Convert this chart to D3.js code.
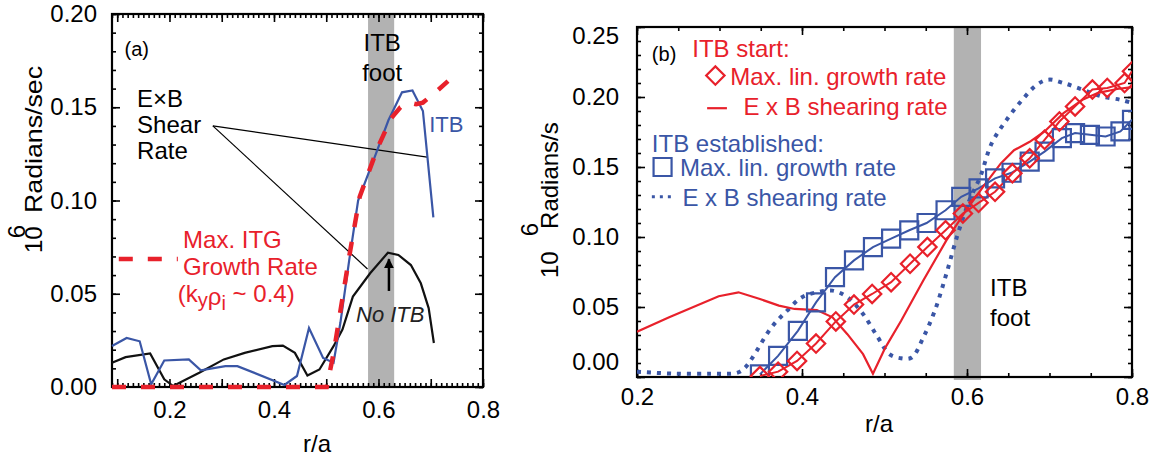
<!DOCTYPE html>
<html>
<head>
<meta charset="utf-8">
<script src="https://cdn.jsdelivr.net/npm/d3@7"></script>
<style>
  body { margin: 0; background: #fff; }
  svg { font-family: "Liberation Sans", Arial, Helvetica, sans-serif; }
</style>
</head>
<body>
<svg id="chart" width="1153" height="461"></svg>
<script>
// ---- panel (a) data ----
const aXLabels = [0.2, 0.4, 0.6, 0.8];
const aYLabels = [0.00, 0.05, 0.10, 0.15, 0.20];
const aFoot = [0.58, 0.63];
// E x B shear rate with ITB (blue)
const aShearItb = [[0.09,0.022],[0.118,0.0263],[0.143,0.0245],[0.165,0.0014],[0.19,0.0142],[0.237,0.0148],
  [0.26,0.0089],[0.307,0.0112],[0.33,0.0112],[0.42,0.0011],[0.444,0.0059],[0.467,0.0316],[0.494,0.0156],
  [0.514,0.013],[0.527,0.0343],[0.544,0.068],[0.561,0.100],[0.595,0.125],[0.619,0.143],[0.645,0.158],
  [0.665,0.159],[0.685,0.148],[0.705,0.091]];
// E x B shear rate, no ITB (black)
const aShearNoItb = [[0.09,0.013],[0.116,0.016],[0.163,0.018],[0.19,0.0041],[0.207,0.0005],[0.257,0.0076],
  [0.304,0.0148],[0.344,0.0183],[0.397,0.0219],[0.417,0.0222],[0.44,0.0183],[0.464,0.0062],[0.487,0.0094],
  [0.514,0.0219],[0.531,0.0308],[0.551,0.0485],[0.584,0.061],[0.618,0.072],[0.638,0.0708],[0.662,0.0654],
  [0.681,0.0556],[0.696,0.0423],[0.706,0.0236]];
// max ITG growth rate (red dashed)
const aItgGrowth = [[0.09,0],[0.501,0],[0.514,0.018],[0.544,0.070],[0.564,0.102],[0.598,0.128],[0.624,0.144],
  [0.642,0.150],[0.659,0.1525],[0.672,0.1516],[0.685,0.1525],[0.709,0.158],[0.733,0.164]];

// ---- panel (b) data ----
const bXLabels = [0.2, 0.4, 0.6, 0.8];
const bYLabels = [0.00, 0.05, 0.10, 0.15, 0.20, 0.25];
const bFoot = [0.584, 0.617];
// ITB start: E x B shearing rate (red solid)
const bStartShear = [[0.2,0.0323],[0.239,0.0426],[0.299,0.0577],[0.323,0.0605],[0.349,0.0557],[0.372,0.051],
  [0.391,0.0486],[0.418,0.0478],[0.437,0.0426],[0.455,0.0306],[0.474,0.0163],[0.486,0.0024],[0.501,0.021],
  [0.520,0.040],[0.547,0.0689],[0.575,0.0976],[0.6,0.120],[0.621,0.137],[0.641,0.1526],[0.657,0.162],
  [0.676,0.168],[0.694,0.1754],[0.717,0.1885],[0.740,0.198],[0.759,0.203],[0.782,0.2057],[0.8,0.207]];
// ITB start: max. lin. growth rate (red diamonds)
const bStartGrowth = [[0.349,0.0007],[0.371,0.0038],[0.394,0.0115],[0.417,0.0239],[0.441,0.0397],[0.463,0.0517],
  [0.485,0.0593],[0.508,0.0677],[0.531,0.0809],[0.552,0.0928],[0.574,0.1048],[0.595,0.1167],[0.614,0.1244],
  [0.634,0.1323],[0.655,0.1455],[0.676,0.1562],[0.694,0.1694],[0.712,0.1825],[0.731,0.1933],[0.752,0.2053],
  [0.770,0.2065],[0.791,0.210],[0.800,0.2184]];
// ITB established: max. lin. growth rate (blue squares)
const bEstGrowth = [[0.349,0.0019],[0.371,0.0151],[0.395,0.033],[0.417,0.0533],[0.440,0.0713],[0.463,0.0833],
  [0.486,0.0928],[0.508,0.0988],[0.530,0.1048],[0.551,0.110],[0.574,0.1191],[0.593,0.1287],[0.614,0.1347],
  [0.634,0.1419],[0.654,0.1459],[0.676,0.1538],[0.694,0.161],[0.715,0.1706],[0.731,0.1742],[0.749,0.173],
  [0.768,0.1718],[0.786,0.1754],[0.800,0.1837]];
// ITB established: E x B shearing rate (blue dotted)
const bEstShear = [[0.2,0.0038],[0.244,0.0024],[0.290,0.0024],[0.322,0.0031],[0.331,0.0067],[0.340,0.0139],
  [0.363,0.0354],[0.382,0.0474],[0.4,0.057],[0.418,0.0605],[0.437,0.0617],[0.455,0.057],[0.474,0.045],
  [0.492,0.0282],[0.506,0.0163],[0.520,0.0134],[0.533,0.0139],[0.547,0.0282],[0.561,0.0474],[0.575,0.0737],
  [0.589,0.1024],[0.603,0.1263],[0.616,0.143],[0.630,0.167],[0.648,0.1837],[0.667,0.198],[0.685,0.2089],
  [0.699,0.2124],[0.717,0.210],[0.740,0.2053],[0.763,0.2005],[0.786,0.198],[0.8,0.1957]];

const RED = "#e8212b", BLUE = "#3a56a6", GRAY = "#b2b2b2";
const FS = 24;

const svg = d3.select("#chart");

const aX = d3.scaleLinear().domain([0.09, 0.8]).range([112, 483]);
const aY = d3.scaleLinear().domain([0, 0.2]).range([387, 14]);
const bX = d3.scaleLinear().domain([0.2, 0.8]).range([637, 1132]);
const bY = d3.scaleLinear().domain([0, 0.25]).range([377, 27]);

const near = (arr, v) => arr.some(a => Math.abs(a - v) < 1e-6);

function drawFrame(g, x, y, o) {
  const [x0, x1] = x.range(), [y0, y1] = y.range();
  const add = (axis, tr) => g.append("g").attr("transform", tr).call(axis);
  // minor ticks, pointing inward
  add(d3.axisBottom(x).tickValues(o.xMinor).tickSize(-4).tickFormat(""), `translate(0,${y0})`);
  add(d3.axisTop(x).tickValues(o.xMinor).tickSize(-4).tickFormat(""), `translate(0,${y1})`);
  add(d3.axisLeft(y).tickValues(o.yMinor).tickSize(-4).tickFormat(""), `translate(${x0},0)`);
  add(d3.axisRight(y).tickValues(o.yMinor).tickSize(-4).tickFormat(""), `translate(${x1},0)`);
  // major ticks
  const fx = d3.format(".1f"), fy = d3.format(".2f");
  add(d3.axisBottom(x).tickValues(o.xMajor).tickSize(-8).tickPadding(o.xPad)
    .tickFormat(d => near(o.xLabels, d) ? fx(d) : ""), `translate(0,${y0})`).attr("class", "xlab");
  add(d3.axisTop(x).tickValues(o.xMajor).tickSize(-8).tickFormat(""), `translate(0,${y1})`);
  add(d3.axisLeft(y).tickValues(o.yLabels).tickSize(-8).tickPadding(o.yPad).tickFormat(fy), `translate(${x0},0)`)
    .attr("class", "ylab");
  add(d3.axisRight(y).tickValues(o.yLabels).tickSize(-8).tickFormat(""), `translate(${x1},0)`);
  g.selectAll(".domain").remove();
  g.selectAll(".tick line").attr("stroke", "#000").attr("stroke-width", 1.6);
  g.selectAll(".tick text").attr("fill", "#000")
    .style("font-size", FS + "px").style("font-family", "'Liberation Sans', Arial, sans-serif");
  g.append("rect")
    .attr("x", x0).attr("y", y1).attr("width", x1 - x0).attr("height", y0 - y1)
    .attr("fill", "none").attr("stroke", "#000").attr("stroke-width", 2.2);
}

function txt(g, x, y, s, color, size, anchor) {
  return g.append("text").attr("x", x).attr("y", y).attr("fill", color || "#000")
    .attr("font-size", size || FS).attr("text-anchor", anchor || "start").text(s);
}

// ================= panel (a) =================
const ga = svg.append("g");
ga.append("rect")
  .attr("x", aX(aFoot[0])).attr("y", aY(0.2))
  .attr("width", aX(aFoot[1]) - aX(aFoot[0])).attr("height", aY(0) - aY(0.2))
  .attr("fill", GRAY);

drawFrame(ga, aX, aY, {
  xMinor: d3.range(9, 81).map(i => i / 100),
  xMajor: d3.range(1, 9).map(i => i / 10),
  xLabels: aXLabels,
  yMinor: d3.range(0, 21).map(i => i / 100),
  yLabels: aYLabels,
  xPad: 14, yPad: 15
});

const lineA = d3.line().x(d => aX(d[0])).y(d => aY(d[1]));

// leader lines from "Shear" label
[[0.693, 0.1233], [0.579, 0.0633]].forEach(p => {
  ga.append("line")
    .attr("x1", aX(0.283)).attr("y1", aY(0.140))
    .attr("x2", aX(p[0])).attr("y2", aY(p[1]))
    .attr("stroke", "#000").attr("stroke-width", 1.2);
});

ga.append("path").datum(aShearNoItb).attr("d", lineA)
  .attr("fill", "none").attr("stroke", "#111").attr("stroke-width", 2.2);
ga.append("path").datum(aShearItb).attr("d", lineA)
  .attr("fill", "none").attr("stroke", BLUE).attr("stroke-width", 2.2);
ga.append("path").datum(aItgGrowth).attr("d", lineA)
  .attr("fill", "none").attr("stroke", RED).attr("stroke-width", 4.5)
  .attr("stroke-dasharray", "14,15");

// legend dash for ITG growth rate
ga.append("line")
  .attr("x1", aX(0.103)).attr("x2", aX(0.216)).attr("y1", aY(0.0686)).attr("y2", aY(0.0686))
  .attr("stroke", RED).attr("stroke-width", 4.5).attr("stroke-dasharray", "14,15");

txt(ga, aX(0.114), aY(0.1775), "(a)", "#000", 20);
txt(ga, aX(0.607), aY(0.180), "ITB", "#000", FS, "middle");
txt(ga, aX(0.607), aY(0.164), "foot", "#000", FS, "middle");
txt(ga, aX(0.138), aY(0.150), "E\u00d7B");
txt(ga, aX(0.138), aY(0.136), "Shear");
txt(ga, aX(0.138), aY(0.122), "Rate");
txt(ga, aX(0.226), aY(0.0745), "Max. ITG", RED);
txt(ga, aX(0.226), aY(0.060), "Growth Rate", RED);
const kt = txt(ga, aX(0.216), aY(0.0458), "", RED);
kt.append("tspan").text("(k");
kt.append("tspan").attr("dy", 5).attr("font-size", 20).text("y");
kt.append("tspan").attr("dy", -2).text("\u03c1");
kt.append("tspan").attr("dy", 5).attr("font-size", 20).text("i");
kt.append("tspan").attr("dy", -8).text(" ~ 0.4)");
txt(ga, aX(0.557), aY(0.0348), "No ITB", "#222", 22).attr("font-style", "italic");
txt(ga, aX(0.697), aY(0.1367), "ITB", BLUE, 22);

// arrow pointing at the no-ITB peak
svg.append("defs").append("marker")
  .attr("id", "ah").attr("viewBox", "0 0 10 10").attr("refX", 9).attr("refY", 5)
  .attr("markerWidth", 4).attr("markerHeight", 5).attr("orient", "auto")
  .append("path").attr("d", "M0,0 L10,5 L0,10 z").attr("fill", "#000");
ga.append("line")
  .attr("x1", aX(0.620)).attr("x2", aX(0.620)).attr("y1", aY(0.0515)).attr("y2", aY(0.0685))
  .attr("stroke", "#000").attr("stroke-width", 2.5).attr("marker-end", "url(#ah)");

// axis titles
const ta = ga.append("text").attr("transform", "translate(42,253) rotate(-90)").attr("font-size", FS);
ta.append("tspan").text("10");
ta.append("tspan").attr("dx", -12).attr("dy", -17).text("6");
ta.append("tspan").attr("dx", 12).attr("dy", 17)
  .attr("textLength", 147).attr("lengthAdjust", "spacingAndGlyphs").text("Radians/sec");
txt(ga, 317, 452, "r/a", "#000", FS, "middle");

// ================= panel (b) =================
const gb = svg.append("g");
gb.append("rect")
  .attr("x", bX(bFoot[0])).attr("y", bY(0.25))
  .attr("width", bX(bFoot[1]) - bX(bFoot[0])).attr("height", bY(0) - bY(0.25) + 3)
  .attr("fill", GRAY);

drawFrame(gb, bX, bY, {
  xMinor: d3.range(4, 17).map(i => i / 20),
  xMajor: bXLabels,
  xLabels: bXLabels,
  yMinor: d3.range(0, 26).map(i => i / 100),
  yLabels: bYLabels,
  xPad: 11, yPad: 18
});
// end labels sit inside the frame height
gb.selectAll(".ylab .tick text").attr("transform", d => d === 0 ? "translate(0,-15)" : (d === 0.25 ? "translate(0,9)" : null));

gb.append("clipPath").attr("id", "clipb").append("rect")
  .attr("x", 637).attr("y", 27).attr("width", 495).attr("height", 350);
const plotB = gb.append("g").attr("clip-path", "url(#clipb)");
const lineB = d3.line().x(d => bX(d[0])).y(d => bY(d[1]));

plotB.append("path").datum(bEstShear).attr("d", lineB.curve(d3.curveCatmullRom))
  .attr("fill", "none").attr("stroke", BLUE).attr("stroke-width", 4).attr("stroke-dasharray", "4,6");
lineB.curve(d3.curveLinear);
plotB.append("path").datum(bEstGrowth).attr("d", lineB)
  .attr("fill", "none").attr("stroke", BLUE).attr("stroke-width", 2);
plotB.append("path").datum(bStartGrowth).attr("d", lineB)
  .attr("fill", "none").attr("stroke", RED).attr("stroke-width", 2);
plotB.append("path").datum(bStartShear).attr("d", lineB)
  .attr("fill", "none").attr("stroke", RED).attr("stroke-width", 2.2);

const sq = d3.symbol(d3.symbolSquare, 324);
const dm = d3.symbol(d3.symbolSquare, 169);
plotB.selectAll(".sq").data(bEstGrowth).join("path").attr("class", "sq")
  .attr("d", sq).attr("transform", d => `translate(${bX(d[0])},${bY(d[1])})`)
  .attr("fill", "none").attr("stroke", BLUE).attr("stroke-width", 2.2);
plotB.selectAll(".dm").data(bStartGrowth).join("path").attr("class", "dm")
  .attr("d", dm).attr("transform", d => `translate(${bX(d[0])},${bY(d[1])}) rotate(45)`)
  .attr("fill", "none").attr("stroke", RED).attr("stroke-width", 2.2);

// legend block
txt(gb, bX(0.218), bY(0.2256), "(b)", "#000", 20);
txt(gb, bX(0.267), bY(0.2287), "ITB start:", RED);
gb.append("path").attr("d", dm)
  .attr("transform", `translate(${bX(0.295)},${bY(0.2153)}) rotate(45)`)
  .attr("fill", "none").attr("stroke", RED).attr("stroke-width", 2.2);
txt(gb, bX(0.313), bY(0.2088), "Max. lin. growth rate", RED);
gb.append("line").attr("x1", bX(0.285)).attr("x2", bX(0.309)).attr("y1", bY(0.192)).attr("y2", bY(0.192))
  .attr("stroke", RED).attr("stroke-width", 2.2);
txt(gb, bX(0.329), bY(0.1873), "E x B shearing rate", RED);
txt(gb, bX(0.218), bY(0.161), "ITB established:", BLUE);
gb.append("path").attr("d", sq)
  .attr("transform", `translate(${bX(0.231)},${bY(0.150)})`)
  .attr("fill", "none").attr("stroke", BLUE).attr("stroke-width", 2.2);
txt(gb, bX(0.252), bY(0.1438), "Max. lin. growth rate", BLUE);
gb.append("line").attr("x1", bX(0.218)).attr("x2", bX(0.244)).attr("y1", bY(0.1287)).attr("y2", bY(0.1287))
  .attr("stroke", BLUE).attr("stroke-width", 3).attr("stroke-dasharray", "3,5");
txt(gb, bX(0.255), bY(0.1222), "E x B shearing rate", BLUE);
txt(gb, bX(0.628), bY(0.0581), "ITB");
txt(gb, bX(0.628), bY(0.0366), "foot");

const tb = gb.append("text").attr("transform", "translate(558,278) rotate(-90)").attr("font-size", FS);
tb.append("tspan").text("10");
tb.append("tspan").attr("dx", 15).attr("dy", -20).text("6");
tb.append("tspan").attr("dx", -6).attr("dy", 20).text("Radians/s");
txt(gb, 879, 432, "r/a", "#000", FS, "middle");
</script>
</body>
</html>
